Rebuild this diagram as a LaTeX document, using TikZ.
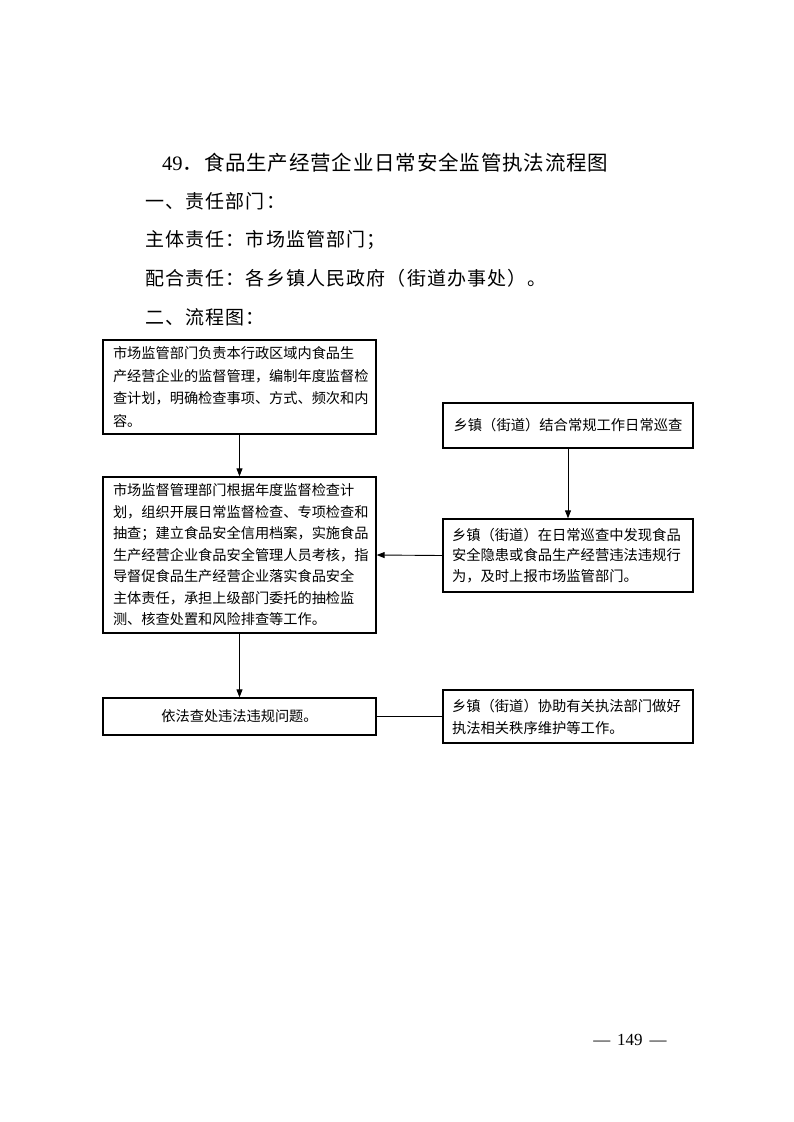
\documentclass[tikz,border=0pt]{standalone}
\usepackage{fontspec}
\setmainfont{Liberation Serif}
\newfontfamily\cjk{Noto Sans CJK SC}
\newfontfamily\cjkhead[LetterSpace=6]{Noto Sans CJK SC}
\newfontfamily\cjktitle[LetterSpace=4]{Noto Sans CJK SC}
\usetikzlibrary{arrows.meta}
\tikzset{
  box/.style={draw, line width=1.3pt, inner sep=0pt, align=left, font=\cjk\fontsize{14.2}{22.5}\selectfont},
  arr/.style={line width=0.9pt, -{Triangle[length=8pt,width=6pt]}},
  conn/.style={line width=0.9pt},
  head/.style={anchor=west, inner sep=0pt, font=\cjkhead\fontsize{19}{19}\selectfont}
}
\begin{document}
\begin{tikzpicture}[x=1pt,y=-1pt]
\useasboundingbox[fill=white] (0,0) rectangle (793,1122);
% headings
\node[head, font=\fontsize{20.5}{20.5}\selectfont] (title) at (162,163) {49{\cjktitle．食品生产经营企业日常安全监管执法流程图}};
\node[head] (h1) at (145,201) {一、责任部门：};
\node[head] (h2) at (145,240) {主体责任：市场监管部门；};
\node[head] (h3) at (145,278) {配合责任：各乡镇人民政府（街道办事处）。};
\node[head] (h4) at (145,317) {二、流程图：};
% boxes
\node[box, minimum width=273pt, minimum height=94pt, text width=253pt] (b1) at (239.5,387)
 {市场监管部门负责本行政区域内食品生\\产经营企业的监督管理，编制年度监督检\\查计划，明确检查事项、方式、频次和内\\容。};
\node[box, minimum width=273pt, minimum height=156pt, text width=253pt, font=\cjk\fontsize{14.2}{21.5}\selectfont] (b2) at (239.5,555)
 {市场监督管理部门根据年度监督检查计\\划，组织开展日常监督检查、专项检查和\\抽查；建立食品安全信用档案，实施食品\\生产经营企业食品安全管理人员考核，指\\导督促食品生产经营企业落实食品安全\\主体责任，承担上级部门委托的抽检监\\测、核查处置和风险排查等工作。};
\node[box, minimum width=273pt, minimum height=37pt, align=center] (b3) at (239.5,716.5) {依法查处违法违规问题。};
\node[box, minimum width=250pt, minimum height=45pt, align=center, font=\cjk\fontsize{14.3}{20.5}\selectfont] (r1) at (568,425.5) {乡镇（街道）结合常规工作日常巡查};
\node[box, minimum width=250pt, minimum height=73pt, text width=232pt, font=\cjk\fontsize{14.3}{20.5}\selectfont] (r2) at (568,555.5)
 {乡镇（街道）在日常巡查中发现食品\\安全隐患或食品生产经营违法违规行\\为，及时上报市场监管部门。};
\node[box, minimum width=250pt, minimum height=53pt, text width=232pt, font=\cjk\fontsize{14.3}{22}\selectfont] (r3) at (568,716.5)
 {乡镇（街道）协助有关执法部门做好\\执法相关秩序维护等工作。};
% connectors
\draw[arr] (b1.south) -- (b2.north);
\draw[arr] (b2.south) -- (b3.north);
\draw[arr] (r1.south) -- (r2.north);
\draw[arr] (r2.west) -- (b2.east);
\draw[conn] (b3.east) -- (r3.west);
% page number
\node[inner sep=0pt, font=\fontsize{17}{17}\selectfont] (pn) at (630,1040) {—\hspace{7pt}149\hspace{7pt}—};
\end{tikzpicture}
\end{document}
